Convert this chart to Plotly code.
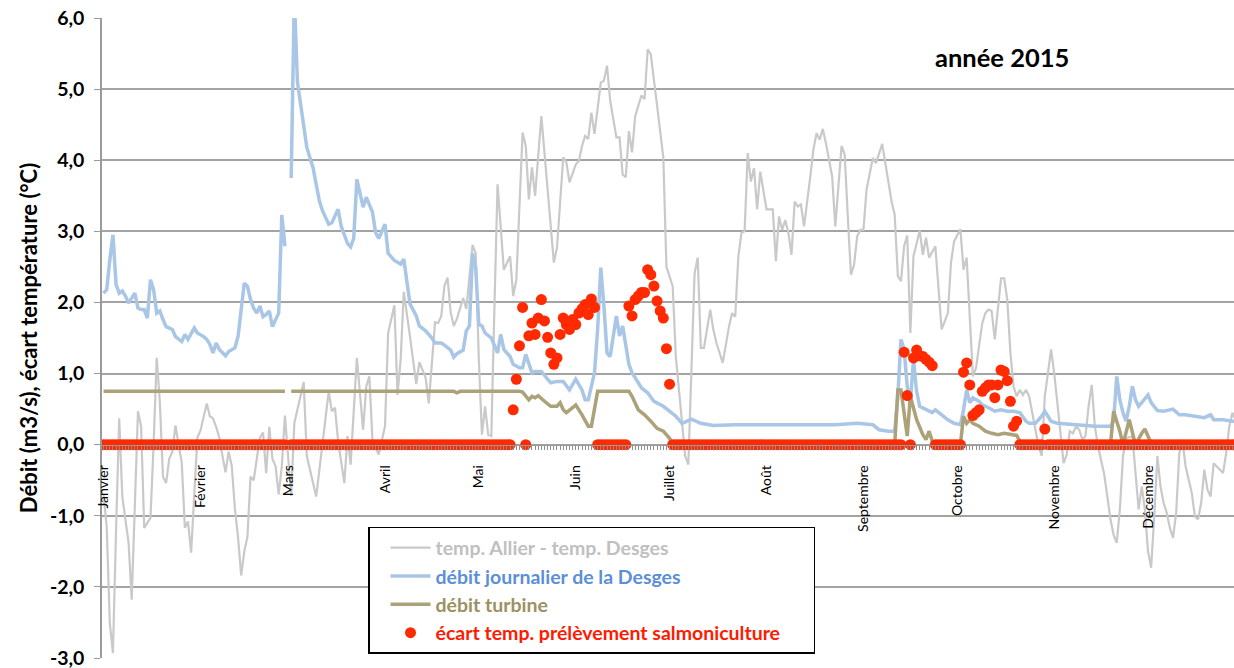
import plotly.graph_objects as go

# ---------------- data ----------------
month_labels = ["Janvier", "Février", "Mars", "Avril", "Mai", "Juin", "Juillet",
                "Août", "Septembre", "Octobre", "Novembre", "Décembre"]
month_start_days = [0, 31, 59, 90, 120, 151, 181, 212, 243, 273, 304, 334]

y_tick_vals = [-3, -2, -1, 0, 1, 2, 3, 4, 5, 6]
y_tick_labels = ["-3,0", "-2,0", "-1,0", "0,0", "1,0", "2,0", "3,0", "4,0", "5,0", "6,0"]

# temp. Allier - temp. Desges (day of year, value)
grey_days = [0, 1, 2, 3, 4, 5, 6, 7, 8, 9, 10, 11, 12, 13, 14, 15, 16, 17, 18, 19, 20,
             21, 22, 23, 24, 25, 26, 27, 28, 29, 30, 31, 32, 33, 34, 35, 36, 37, 38, 39, 40,
             41, 42, 43, 44, 45, 46, 47, 48, 49, 50, 51, 52, 53, 54, 55, 56, 57, 58, 60, 61,
             64, 65, 68, 69, 72, 73, 74, 75, 77, 78, 79, 81, 83, 84, 85, 86, 88, 90, 91, 93,
             94, 95, 96, 98, 100, 101, 103, 104, 106, 107, 108, 109, 110, 111, 112, 113, 115, 116, 118, 119,
             120, 121, 122, 123, 124, 125, 126, 128, 130, 131, 132, 134, 135, 136, 137, 138, 140, 142, 144, 145,
             147, 148, 149, 151, 152, 153, 154, 155, 156, 157, 159, 160, 161, 162, 164, 165, 166, 167, 168, 169,
             170, 172, 173, 174, 175, 177, 179, 180, 182, 183, 185, 186, 187, 189, 190, 191, 192, 194, 195, 196,
             198, 199, 200, 201, 202, 203, 204, 205, 206, 207, 208, 209, 210, 212, 214, 215, 216, 217, 218, 219,
             220, 221, 222, 223, 224, 226, 227, 228, 229, 230, 231, 233, 234, 236, 237, 238, 239, 240, 241, 242,
             243, 244, 246, 247, 249, 250, 252, 253, 254, 255, 256, 257, 258, 259, 261, 262, 263, 264, 266, 268,
             270, 271, 272, 274, 275, 276, 277, 278, 279, 281, 282, 283, 284, 285, 287, 288, 289, 290, 291, 292,
             293, 294, 295, 296, 298, 299, 300, 301, 303, 304, 305, 306, 307, 308, 309, 310, 311, 312, 313, 314,
             315, 316, 317, 318, 320, 322, 323, 324, 325, 326, 327, 329, 330, 331, 332, 333, 334, 335, 336, 337,
             338, 339, 340, 341, 342, 343, 344, 345, 346, 348, 349, 350, 351, 352, 353, 354, 355, 357, 358, 359,
             360, 361, 362]
grey_vals = [-0.70, -1.15, -2.51, -2.93, -1.20, 0.37, -0.73, -1.05, -1.38, -2.18, -0.80, 0.47, 0.26, -1.17, -1.10, -1.03, 0.00, 1.22, 0.60, -0.45, -0.54,
             -0.20, -0.10, 0.27, 0.00, -0.25, -1.17, -1.08, -1.52, -0.60, 0.10, 0.20, 0.40, 0.58, 0.40, 0.37, 0.25, 0.10, -0.15, -0.39, -0.10,
             -0.30, -0.90, -1.30, -1.84, -1.50, -1.30, -0.45, -0.50, -0.20, 0.10, 0.17, -0.40, 0.25, -0.20, -0.30, -0.70, -0.30, 0.41, -0.72, 0.30,
             0.88, -0.16, -0.73, -0.35, 0.75, 0.47, 0.52, 0.05, -0.54, 0.12, -0.28, 1.22, 0.21, 0.82, 0.96, 0.05, -0.14, 0.26, 1.57, 1.96,
             0.70, 1.19, 2.15, 1.52, 0.85, 1.16, 0.94, 0.58, 1.72, 1.71, 1.81, 2.23, 2.35, 1.86, 1.67, 1.77, 2.06, 1.91, 2.81, 2.69,
             1.20, 0.14, 0.54, 0.14, 0.12, 1.95, 3.66, 2.46, 2.65, 2.09, 2.32, 4.39, 4.20, 3.45, 3.90, 3.50, 4.62, 3.59, 2.56, 2.77,
             4.04, 3.97, 3.69, 3.94, 3.99, 4.20, 4.34, 4.30, 4.67, 4.37, 5.09, 5.12, 5.33, 4.84, 4.32, 4.32, 3.80, 3.76, 4.41, 4.11,
             4.62, 4.91, 4.86, 5.56, 5.49, 4.77, 4.04, 2.50, 2.23, 1.24, 0.33, -0.16, -0.28, 2.41, 2.63, 1.36, 1.36, 1.90, 1.62, 1.43,
             1.15, 1.43, 1.66, 1.85, 1.80, 2.65, 2.98, 3.00, 4.10, 3.70, 3.89, 3.31, 3.84, 3.31, 3.31, 2.58, 3.21, 3.02, 3.16, 2.98,
             2.67, 3.42, 3.35, 3.38, 3.07, 3.77, 4.15, 4.38, 4.29, 4.44, 4.24, 3.77, 3.07, 4.20, 4.08, 3.21, 2.39, 2.53, 2.93, 3.02,
             3.02, 3.59, 4.03, 3.96, 4.23, 3.96, 3.42, 3.23, 2.37, 2.30, 2.79, 2.94, 1.57, 2.65, 3.01, 2.67, 2.91, 2.63, 2.79, 1.62,
             1.85, 2.56, 2.86, 3.03, 2.46, 2.63, 1.88, 0.96, 1.08, 1.71, 1.85, 1.90, 1.88, 1.48, 2.34, 2.34, 2.04, 1.29, 0.82, 0.68,
             0.77, 0.70, 0.77, 0.68, 0.21, -0.02, -0.16, 0.68, 1.34, 1.01, 0.59, 0.21, -0.26, -0.14, 0.19, 0.16, 0.26, 0.21, 0.07, 0.12,
             0.54, 0.84, 0.26, -0.02, -0.42, -1.05, -1.27, -1.38, -0.91, -0.16, 0.09, 0.12, -0.40, -0.91, -0.59, -0.91, -1.50, -1.73, -1.01, -0.16,
             -0.59, -0.82, -0.96, -1.17, -1.31, -0.96, -0.12, 0.07, -0.30, -0.68, -1.01, -1.05, -0.82, -0.35, -0.63, -0.73, -0.26, -0.35, -0.40, -0.12,
             0.26, 0.45, 0.35]

# débit journalier de la Desges (day of year, m3/s) - None = missing day
blue_days = [0, 1, 2, 3, 4, 5, 6, 7, 8, 10, 11, 12, 13, 14, 15, 16, 17, 18, 19, 20,
             22, 23, 25, 26, 27, 29, 30, 32, 33, 34, 35, 36, 37, 39, 40, 42, 43, 44, 45, 46,
             47, 48, 49, 50, 51, 52, 53, 54, 56, 57, 58, 59, 60, 61, 62, 64, 65, 67, 69, 70,
             72, 73, 75, 76, 78, 79, 80, 81, 83, 84, 86, 87, 88, 90, 91, 93, 95, 96, 97, 98,
             100, 101, 103, 105, 106, 108, 109, 111, 112, 113, 115, 116, 117, 118, 119, 120, 121, 122, 124, 126,
             127, 128, 130, 131, 133, 134, 135, 137, 138, 140, 142, 143, 145, 147, 149, 151, 153, 154, 155, 157,
             158, 159, 160, 161, 162, 163, 164, 165, 166, 168, 169, 171, 172, 174, 176, 179, 181, 183, 185, 188,
             191, 195, 202, 213, 224, 234, 241, 246, 248, 251, 253, 254, 255, 256, 257, 258, 259, 260, 261, 263,
             265, 266, 268, 270, 272, 274, 275, 276, 277, 278, 280, 281, 283, 285, 287, 289, 291, 293, 295, 296,
             298, 300, 301, 303, 305, 309, 313, 317, 322, 323, 324, 325, 326, 327, 328, 329, 330, 331, 332, 334,
             335, 337, 339, 341, 342, 344, 346, 349, 352, 354, 355, 358, 361, 364]
blue_vals = [2.13, 2.18, 2.60, 2.95, 2.25, 2.13, 2.16, 2.09, 1.99, 2.13, 1.92, 1.90, 1.90, 1.78, 2.32, 2.18, 1.85, 1.88, 1.76, 1.66,
             1.62, 1.52, 1.45, 1.55, 1.48, 1.64, 1.57, 1.52, 1.48, 1.41, 1.29, 1.43, 1.34, 1.25, 1.31, 1.36, 1.52, 1.90, 2.27, 2.23,
             2.04, 1.92, 1.85, 1.95, 1.80, 1.83, 1.88, 1.66, 1.85, 3.23, 2.79, None, 3.75, 6.30, 5.10, 4.48, 4.18, 3.89, 3.43, 3.29,
             3.10, 3.12, 3.31, 3.07, 2.83, 2.78, 2.90, 3.73, 3.34, 3.48, 3.27, 2.98, 2.90, 3.10, 2.69, 2.59, 2.54, 2.61, 2.25, 1.98,
             1.81, 1.67, 1.60, 1.50, 1.43, 1.43, 1.40, 1.33, 1.23, 1.28, 1.33, 1.60, 1.67, 2.69, 2.49, 1.69, 1.67, 1.57, 1.50, 1.29,
             1.55, 1.34, 1.24, 1.13, 1.08, 1.08, 1.27, 1.01, 1.03, 1.03, 0.92, 0.87, 0.89, 0.89, 0.77, 0.92, 0.77, 0.63, 0.63, 1.01,
             1.62, 2.49, 1.95, 1.29, 1.24, 1.53, 1.81, 1.53, 1.67, 1.13, 1.01, 0.87, 0.80, 0.73, 0.61, 0.54, 0.47, 0.40, 0.30, 0.36,
             0.30, 0.27, 0.28, 0.28, 0.28, 0.28, 0.30, 0.28, 0.21, 0.19, 0.19, 0.68, 1.48, 1.34, 0.82, 0.59, 1.20, 0.75, 0.54, 0.49,
             0.45, 0.49, 0.42, 0.35, 0.30, 0.28, 0.49, 0.77, 0.59, 0.66, 0.61, 0.56, 0.52, 0.47, 0.49, 0.47, 0.47, 0.45, 0.33, 0.30,
             0.30, 0.40, 0.47, 0.33, 0.30, 0.29, 0.28, 0.26, 0.26, 0.33, 0.96, 0.63, 0.45, 0.33, 0.54, 0.82, 0.63, 0.54, 0.59, 0.70,
             0.59, 0.48, 0.47, 0.49, 0.50, 0.42, 0.42, 0.40, 0.38, 0.42, 0.35, 0.35, 0.33, 0.33]

# débit turbine (day of year, m3/s) - None = missing day
turb_days = [0, 58, 59, 60, 112, 113, 114, 133, 134, 136, 137, 138, 139, 141, 143, 145, 146, 147, 148, 150,
             151, 153, 155, 156, 157, 158, 168, 169, 171, 173, 175, 177, 179, 181, 182, 183, 253, 254, 255, 256,
             257, 258, 260, 262, 263, 264, 265, 266, 274, 275, 276, 277, 278, 280, 282, 284, 286, 288, 290, 292,
             293, 294, 322, 323, 325, 326, 328, 329, 330, 332, 333, 335, 364]
turb_vals = [0.75, 0.75, None, 0.75, 0.75, 0.73, 0.75, 0.75, 0.74, 0.63, 0.68, 0.66, 0.69, 0.61, 0.54, 0.54, 0.59, 0.49, 0.45, 0.52,
             0.56, 0.42, 0.26, 0.26, 0.49, 0.75, 0.75, 0.68, 0.49, 0.42, 0.33, 0.23, 0.19, 0.09, 0.01, 0.00, 0.00, 0.77, 0.77, 0.45,
             0.12, 0.68, 0.35, 0.14, 0.07, 0.19, 0.05, 0.00, 0.00, 0.40, 0.30, 0.35, 0.30, 0.26, 0.19, 0.16, 0.14, 0.16, 0.14, 0.13,
             0.05, 0.00, 0.00, 0.47, 0.19, 0.00, 0.35, 0.16, 0.00, 0.16, 0.22, 0.02, 0.00]

# écart temp. prélèvement salmoniculture, one value per day, month by month
red_jan = [0, 0, 0, 0, 0, 0, 0, 0, 0, 0, 0, 0, 0, 0, 0, 0, 0, 0, 0, 0, 0, 0, 0, 0, 0, 0, 0, 0, 0, 0, 0]
red_feb = [0, 0, 0, 0, 0, 0, 0, 0, 0, 0, 0, 0, 0, 0, 0, 0, 0, 0, 0, 0, 0, 0, 0, 0, 0, 0, 0, 0]
red_mar = [None, 0, 0, 0, 0, 0, 0, 0, 0, 0, 0, 0, 0, 0, 0, 0, 0, 0, 0, 0, 0, 0, 0, 0, 0, 0, 0, 0, 0, 0, 0]
red_apr = [0, 0, 0, 0, 0, 0, 0, 0, 0, 0, 0, 0, 0, 0, 0, 0, 0, 0, 0, 0, 0, 0, 0, 0, 0, 0, 0, 0, 0, 0]
red_may = [0, 0, 0, 0, 0, 0, 0, 0, 0, 0, 0, 0.49, 0.92, 1.39, 1.93, 0, 1.53, 1.71, 1.55, 1.78,
           2.04, 1.74, 1.51, 1.29, 1.13, 1.22, 1.55, 1.78, 1.69, 1.62, 1.76]
red_jun = [1.69, 1.85, 1.91, 1.97, 1.83, 2.05, 1.93, 0, 0, 0, 0, 0, 0, 0, 0, 0, 0, 1.95, 1.81, 2.04,
           2.09, 2.14, 2.14, 2.46, 2.39, 2.23, 2.02, 1.88, 1.78, 1.35]
red_jul = [0.85, 0, 0, 0, 0, 0, 0, 0, 0, 0, 0, 0, 0, 0, 0, 0, 0, 0, 0, 0, 0, 0, 0, 0, 0, 0, 0, 0, 0, 0, 0]
red_aug = [0, 0, 0, 0, 0, 0, 0, 0, 0, 0, 0, 0, 0, 0, 0, 0, 0, 0, 0, 0, 0, 0, 0, 0, 0, 0, 0, 0, 0, 0, 0]
red_sep = [0, 0, 0, 0, 0, 0, 0, 0, 0, 0, 0, 0, 0, 1.30, 0.69, 0, 1.22, 1.33, 1.25, 1.24,
           1.20, 1.16, 1.11, 0, 0, 0, 0, 0, 0, 0]
red_oct = [0, 0, 1.02, 1.15, 0.84, 0.41, 0.45, 0.49, 0.75, 0.80, 0.84, 0.84, 0.66, 0.84, 1.05, 1.03, 0.90, 0.61, 0.26, 0.33,
           0, 0, 0, 0, 0, 0, 0, 0, 0.22, 0, 0]
red_nov = [0, 0, 0, 0, 0, 0, 0, 0, 0, 0, 0, 0, 0, 0, 0, 0, 0, 0, 0, 0, 0, 0, 0, 0, 0, 0, 0, 0, 0, 0]
red_dec = [0, 0, 0, 0, 0, 0, 0, 0, 0, 0, 0, 0, 0, 0, 0, 0, 0, 0, 0, 0, 0, 0, 0, 0, 0, 0, 0, 0, 0, 0, 0]

red_vals = (red_jan + red_feb + red_mar + red_apr + red_may + red_jun +
            red_jul + red_aug + red_sep + red_oct + red_nov + red_dec)
red_days = list(range(len(red_vals)))

# ---------------- figure ----------------
FONT = "Lato, 'Open Sans', sans-serif"
GREY = "#c9c9c9"
BLUE = "#a9c6e6"
KHAKI = "#aca279"
RED = "#ff2a00"

fig = go.Figure()
fig.add_trace(go.Scatter(
    x=grey_days, y=grey_vals, mode="lines",
    line=dict(color=GREY, width=2.2),
    name='<span style="color:#c0c0c0">temp. Allier - temp. Desges</span>'))
fig.add_trace(go.Scatter(
    x=blue_days, y=blue_vals, mode="lines", connectgaps=False,
    line=dict(color=BLUE, width=3.5),
    name='<span style="color:#5b8fd6">débit journalier de la Desges</span>'))
fig.add_trace(go.Scatter(
    x=turb_days, y=turb_vals, mode="lines", connectgaps=False,
    line=dict(color=KHAKI, width=3.5),
    name='<span style="color:#9c9161">débit turbine</span>'))
fig.add_trace(go.Scatter(
    x=red_days, y=red_vals, mode="markers",
    marker=dict(color=RED, size=11, line=dict(width=0)),
    name='<span style="color:#ff1a00">écart temp. prélèvement salmoniculture</span>&nbsp;&nbsp;&nbsp;&nbsp;&nbsp;&nbsp;'))

fig.update_layout(
    width=1234, height=668,
    margin=dict(l=102, r=0, t=18, b=10),
    paper_bgcolor="white", plot_bgcolor="white",
    font=dict(family=FONT, color="black"),
    showlegend=True,
    legend=dict(
        x=0.235, y=0.2047, xanchor="left", yanchor="top",
        bgcolor="white", bordercolor="black", borderwidth=1.5,
        font=dict(family=FONT, size=19.5, weight="bold"),
        tracegroupgap=0, itemwidth=40, indentation=16,
    ),
    xaxis=dict(
        range=[-0.5, 361.5], anchor="free", position=1/3,
        tickmode="array", tickvals=month_start_days, ticktext=month_labels,
        tickangle=-90, tickfont=dict(family=FONT, size=14, color="black"),
        ticks="outside", ticklen=4, tickcolor="#8c8c8c", tickwidth=1,
        ticklabelstandoff=10,
        showline=True, linecolor="#9a9a9a", linewidth=1,
        showgrid=False, zeroline=False,
        minor=dict(ticks="outside", ticklen=4, tickcolor="#8c8c8c", tickwidth=1,
                   tickmode="linear", tick0=0, dtick=1, showgrid=False),
    ),
    yaxis=dict(
        range=[-3, 6], tickmode="array", tickvals=y_tick_vals, ticktext=y_tick_labels,
        tickfont=dict(family=FONT, size=19.5, weight="bold", color="black"),
        ticks="outside", ticklen=6, tickcolor="#9a9a9a",
        ticklabelstandoff=6, ticklabeloverflow="allow",
        showline=True, linecolor="#9a9a9a", linewidth=1.5,
        showgrid=True, gridcolor="#a3a3a3", gridwidth=1.5,
        zeroline=True, zerolinecolor="#a3a3a3", zerolinewidth=1.5,
        title=dict(text="Débit (m3/s), écart température (°C)",
                   font=dict(family=FONT, size=22, weight="bold", color="black"),
                   standoff=6),
        automargin=False,
    ),
    annotations=[dict(
        text="année 2015", x=0.795, y=0.939, xref="paper", yref="paper",
        xanchor="center", yanchor="middle", showarrow=False,
        font=dict(family=FONT, size=25.5, weight="bold", color="black"),
    )],
)

fig.write_html("out.html", config={"displayModeBar": False},
               post_script="document.body.style.margin='0px';document.body.style.overflow='hidden';")
